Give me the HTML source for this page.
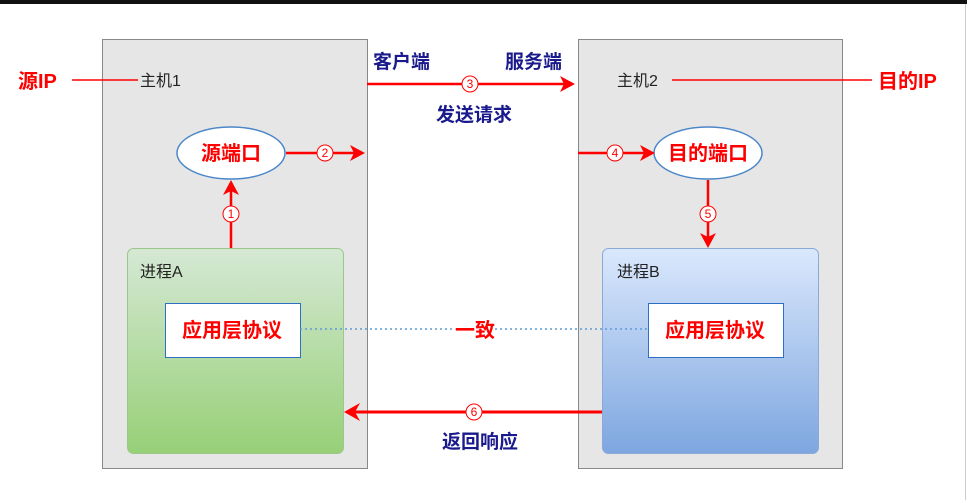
<!DOCTYPE html>
<html><head><meta charset="utf-8"><style>
body{margin:0;width:967px;height:500px;background:#fff;overflow:hidden;font-family:"Liberation Sans","Noto Sans CJK SC",sans-serif}
</style></head><body>
<svg width="967" height="500" xmlns="http://www.w3.org/2000/svg" style="position:absolute;left:0;top:0">
<defs>
<linearGradient id="g" x1="0" y1="0" x2="0" y2="1"><stop offset="0" stop-color="#d5e8d4"/><stop offset="1" stop-color="#97d077"/></linearGradient>
<linearGradient id="b" x1="0" y1="0" x2="0" y2="1"><stop offset="0" stop-color="#dae8fc"/><stop offset="1" stop-color="#7ea6e0"/></linearGradient>
</defs>
<rect x="0" y="0" width="967" height="4" fill="#111"/>
<line x1="965.5" y1="4" x2="965.5" y2="500" stroke="#ccc"/>
<rect x="102.5" y="39.5" width="265" height="429" fill="#e6e6e6" stroke="#888"/>
<rect x="578.5" y="39.5" width="264" height="429" fill="#e6e6e6" stroke="#888"/>
<rect x="127.5" y="248.5" width="216" height="205" rx="6" fill="url(#g)" stroke="#9bc88a"/>
<rect x="602.5" y="248.5" width="216" height="205" rx="6" fill="url(#b)" stroke="#8aa8d8"/>
<rect x="165.5" y="303.5" width="135" height="54" fill="#fff" stroke="#2d6fc4"/>
<rect x="648.5" y="303.5" width="135" height="54" fill="#fff" stroke="#2d6fc4"/>
<ellipse cx="231" cy="153" rx="54" ry="26" fill="#fff" stroke="#4a86c8" stroke-width="1.5"/>
<ellipse cx="708" cy="153" rx="54" ry="26" fill="#fff" stroke="#4a86c8" stroke-width="1.5"/>
<g stroke="#f00" stroke-width="2.5" fill="none">
<line x1="72" y1="80" x2="138" y2="80" stroke-width="1.5"/>
<line x1="672" y1="80" x2="872" y2="80" stroke-width="1.5"/>
<line x1="367" y1="84" x2="566" y2="84"/>
<line x1="286" y1="153" x2="355" y2="153"/>
<line x1="578" y1="153" x2="648" y2="153"/>
<line x1="231" y1="248" x2="231" y2="190"/>
<line x1="708" y1="180" x2="708" y2="238"/>
<line x1="602" y1="412" x2="355" y2="412" stroke-width="3"/>
</g>
<g fill="#f00">
<polygon points="575,84 560,76 564,84 560,92"/>
<polygon points="365,153 350,145 354,153 350,161"/>
<polygon points="655,153 640,145 644,153 640,161"/>
<polygon points="231,180 223,195 231,191 239,195"/>
<polygon points="708,248 700,233 708,237 716,233"/>
<polygon points="344,412 360,403 355,412 360,421"/>
</g>
<line x1="300" y1="329" x2="648" y2="329" stroke="#5b9bd5" stroke-width="1.5" stroke-dasharray="2,3"/>
<rect x="455" y="318" width="40" height="22" fill="#fff"/>
<g fill="#fff" stroke="#f00" stroke-width="1">
<circle cx="470" cy="84" r="8"/><circle cx="325" cy="153" r="8"/><circle cx="615" cy="153" r="8"/>
<circle cx="231" cy="214" r="8"/><circle cx="708" cy="214" r="8"/><circle cx="474" cy="412" r="8"/>
</g>
<g fill="#f00" font-size="12" text-anchor="middle">
<text x="470" y="88">3</text><text x="325" y="157">2</text><text x="615" y="157">4</text>
<text x="231" y="218">1</text><text x="708" y="218">5</text><text x="474" y="416">6</text>
</g>
<g font-weight="bold" fill="#f00" font-size="20">
<text x="18" y="88">源IP</text>
<text x="878" y="88">目的IP</text>
<text x="231" y="160" text-anchor="middle">源端口</text>
<text x="708" y="160" text-anchor="middle">目的端口</text>
<text x="232" y="337" text-anchor="middle">应用层协议</text>
<text x="715" y="337" text-anchor="middle">应用层协议</text>
<text x="475" y="337" text-anchor="middle">一致</text>
</g>
<g font-weight="bold" fill="#1a1a8c" font-size="19">
<text x="373" y="68">客户端</text>
<text x="505" y="68">服务端</text>
<text x="474" y="121" text-anchor="middle">发送请求</text>
<text x="480" y="448" text-anchor="middle">返回响应</text>
</g>
<g fill="#222" font-size="16">
<text x="140" y="86">主机1</text>
<text x="617" y="86">主机2</text>
<text x="140" y="277">进程A</text>
<text x="617" y="277">进程B</text>
</g>
</svg>
</body></html>
